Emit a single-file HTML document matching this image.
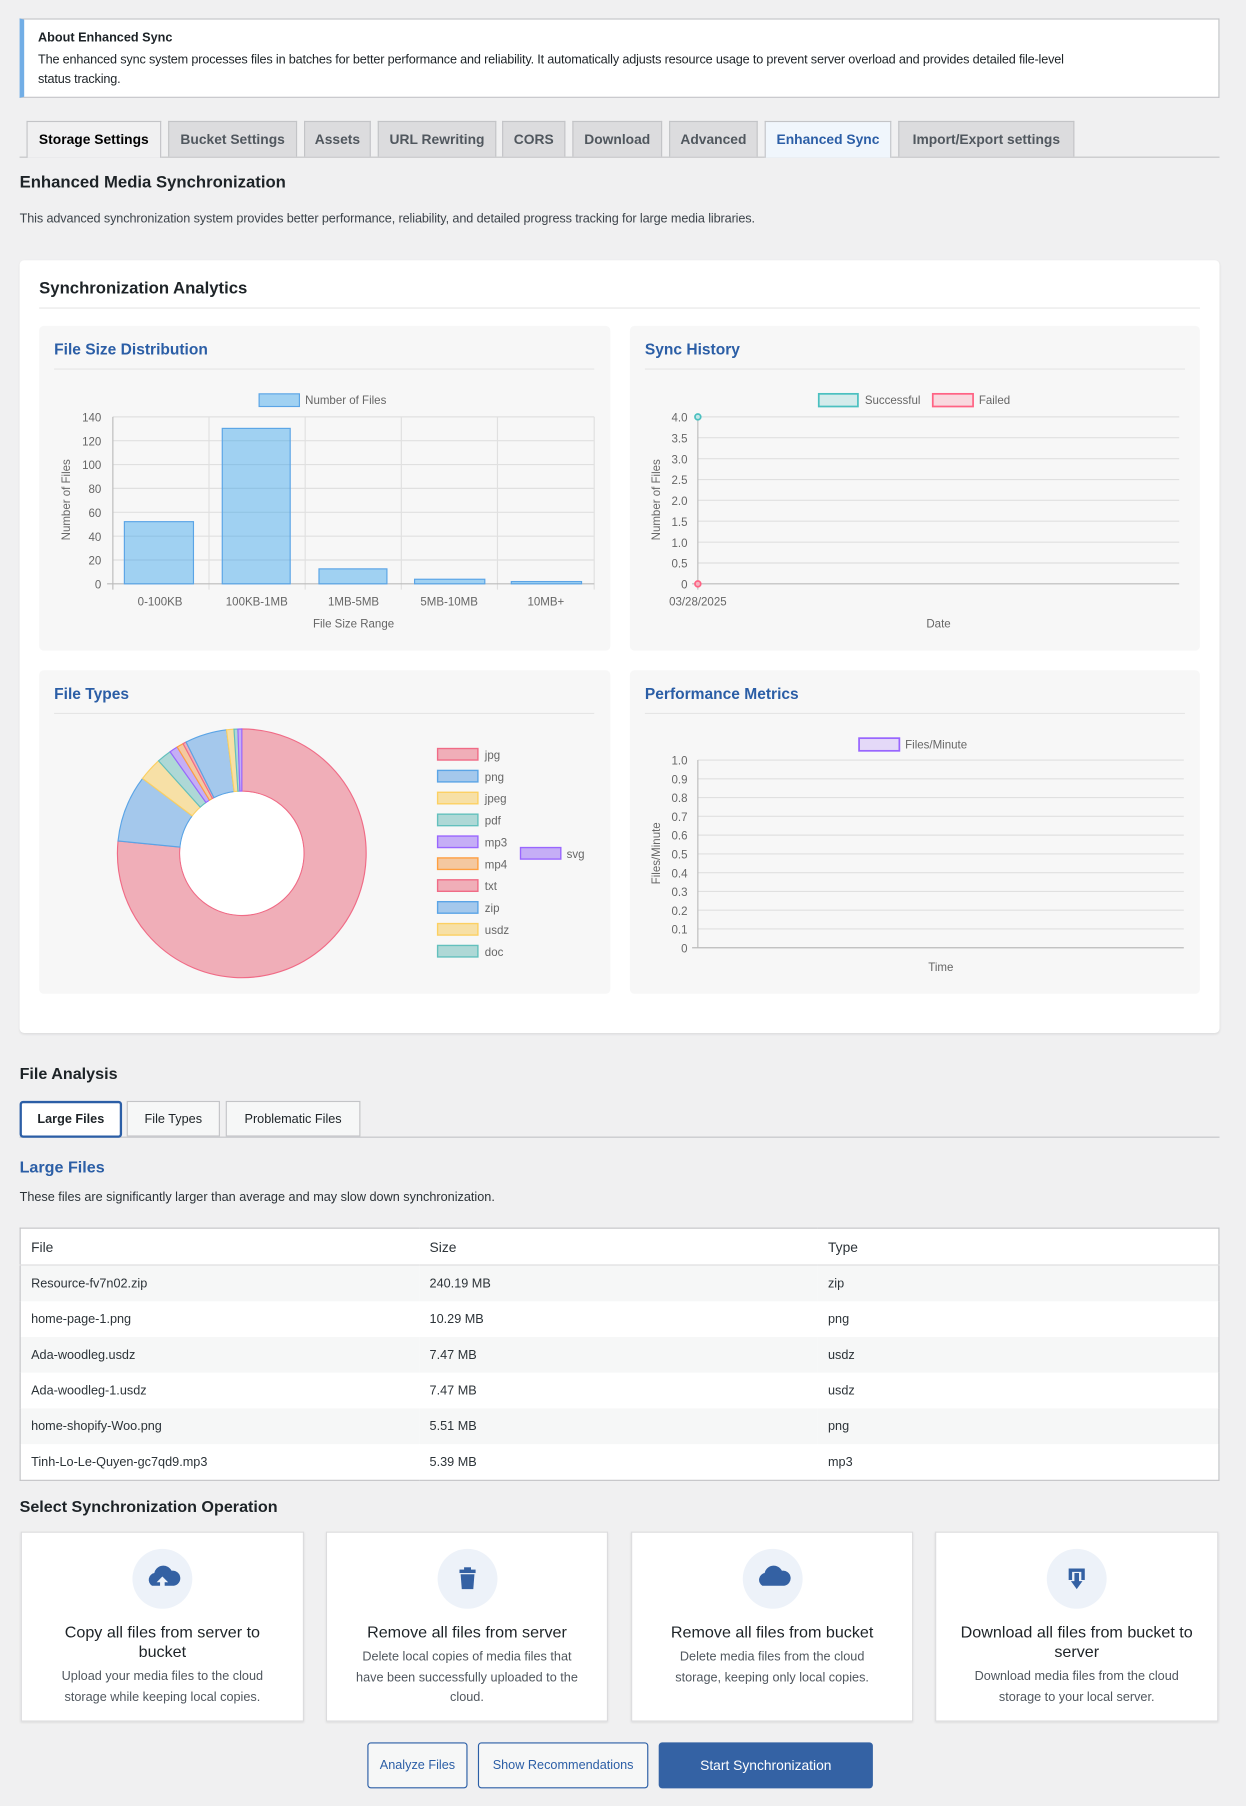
<!DOCTYPE html>
<html><head><meta charset="utf-8"><style>
html,body{margin:0;padding:0;background:#f0f0f1;width:1246px;height:1806px;overflow:hidden}
#w{position:absolute;left:0;top:0;width:1082px;height:1568px;transform:scale(1.15157);transform-origin:0 0;font-family:"Liberation Sans",sans-serif;color:#1d2327}
.a{position:absolute;white-space:nowrap}
.tab{position:absolute;top:105px;height:31px;background:#dcdcde;border:1px solid #c3c4c7;border-bottom:none;box-sizing:border-box;font-size:12px;font-weight:bold;color:#50575e;text-align:center;line-height:31px}
.box{position:absolute;background:#f7f7f7;border-radius:4px}
.ct{position:absolute;font-size:13.5px;font-weight:bold;color:#2b5ea6}
.card{position:absolute;top:1330px;height:165px;background:#fff;border:1px solid #dcdcde;box-shadow:0 1px 2px rgba(0,0,0,.1);box-sizing:border-box;text-align:center}
.card .ic{width:52px;height:52px;border-radius:50%;background:#edf2f9;margin:14px auto 0;position:relative}
.card h4{margin:12px 8px 0;font-size:14px;font-weight:500;line-height:17px;color:#1d2327;white-space:nowrap}
.card p{margin:5px 6px 0;font-size:11px;line-height:17.5px;color:#50575e;white-space:nowrap}
td{padding:0 0 0 9px;height:31px;font-size:11px;color:#2c3338}
</style></head><body><div id="w">
<div class="a" style="left:17px;top:16px;width:1042px;height:69px;background:#fff;border:1px solid #c3c4c7;border-left:4px solid #72aee6;box-sizing:border-box"></div>
<div class="a" style="left:33px;top:27px;font-size:11px;font-weight:bold">About Enhanced Sync</div>
<div class="a" style="left:33px;top:44px;font-size:11px;line-height:17px;letter-spacing:-0.15px">The enhanced sync system processes files in batches for better performance and reliability. It automatically adjusts resource usage to prevent server overload and provides detailed file-level<br>status tracking.</div>

<div class="a" style="left:17px;top:136px;width:1042px;height:1px;background:#c3c4c7"></div>
<div class="tab" style="left:23px;width:117px;background:#f0f0f1;color:#000;height:32px">Storage Settings</div>
<div class="tab" style="left:146px;width:112px">Bucket Settings</div>
<div class="tab" style="left:264px;width:58px">Assets</div>
<div class="tab" style="left:328px;width:103px">URL Rewriting</div>
<div class="tab" style="left:436px;width:55px">CORS</div>
<div class="tab" style="left:497px;width:78px">Download</div>
<div class="tab" style="left:581px;width:77px">Advanced</div>
<div class="tab" style="left:664px;width:110px;background:#f0f6fc;color:#2b5ea6;height:32px">Enhanced Sync</div>
<div class="tab" style="left:780px;width:153px">Import/Export settings</div>

<div class="a" style="left:17px;top:151px;font-size:14.5px;font-weight:bold">Enhanced Media Synchronization</div>
<div class="a" style="left:17px;top:184px;font-size:11px;color:#3c434a;letter-spacing:-0.1px">This advanced synchronization system provides better performance, reliability, and detailed progress tracking for large media libraries.</div>

<div class="a" style="left:17px;top:226px;width:1042px;height:671px;background:#fff;border-radius:4px;box-shadow:0 1px 2px rgba(0,0,0,.08)"></div>
<div class="a" style="left:34px;top:243px;font-size:14.5px;font-weight:bold">Synchronization Analytics</div>
<div class="a" style="left:34px;top:267px;width:1008px;height:1px;background:#e6e6e6"></div>

<div class="box" style="left:34px;top:283px;width:496px;height:282px"></div>
<div class="box" style="left:547px;top:283px;width:495px;height:282px"></div>
<div class="box" style="left:34px;top:582px;width:496px;height:281px"></div>
<div class="box" style="left:547px;top:582px;width:495px;height:281px"></div>
<div class="ct" style="left:47px;top:296px">File Size Distribution</div>
<div class="ct" style="left:560px;top:296px">Sync History</div>
<div class="ct" style="left:47px;top:595px">File Types</div>
<div class="ct" style="left:560px;top:595px">Performance Metrics</div>

<svg class="a" style="left:0;top:0" width="1082" height="1568" font-family="Liberation Sans, sans-serif" font-size="10" fill="#666">
<g stroke="#e5e5e5" stroke-width="1">
<line x1="47" y1="320.5" x2="516" y2="320.5"/><line x1="560" y1="320.5" x2="1029" y2="320.5"/>
<line x1="47" y1="619.5" x2="516" y2="619.5"/><line x1="560" y1="619.5" x2="1029" y2="619.5"/>
</g>
<g stroke="#e0e0e0">
<line x1="98" y1="362" x2="516" y2="362"/><line x1="98" y1="382.7" x2="516" y2="382.7"/><line x1="98" y1="403.4" x2="516" y2="403.4"/><line x1="98" y1="424.1" x2="516" y2="424.1"/><line x1="98" y1="444.9" x2="516" y2="444.9"/><line x1="98" y1="465.6" x2="516" y2="465.6"/><line x1="98" y1="486.3" x2="516" y2="486.3"/>
<line x1="181.5" y1="362" x2="181.5" y2="512"/><line x1="265" y1="362" x2="265" y2="512"/><line x1="348.5" y1="362" x2="348.5" y2="512"/><line x1="432" y1="362" x2="432" y2="512"/><line x1="516" y1="362" x2="516" y2="512"/>
</g>
<g stroke="#bbb"><line x1="98" y1="362" x2="98" y2="512"/><line x1="93" y1="507" x2="516" y2="507"/></g>
<g text-anchor="end"><text x="88" y="366">140</text><text x="88" y="386.7">120</text><text x="88" y="407.4">100</text><text x="88" y="428.1">80</text><text x="88" y="448.9">60</text><text x="88" y="469.6">40</text><text x="88" y="490.3">20</text><text x="88" y="511">0</text></g>
<g fill="rgba(54,162,235,0.45)" stroke="#5aa4e6" stroke-width="1">
<rect x="108" y="453" width="60" height="54"/><rect x="193" y="372" width="59" height="135"/><rect x="277" y="494" width="59" height="13"/><rect x="360" y="503" width="61" height="4"/><rect x="444" y="505" width="61" height="2"/>
</g>
<g text-anchor="middle"><text x="139" y="526">0-100KB</text><text x="223" y="526">100KB-1MB</text><text x="307" y="526">1MB-5MB</text><text x="390" y="526">5MB-10MB</text><text x="474" y="526">10MB+</text><text x="307" y="545">File Size Range</text></g>
<text transform="translate(61,434) rotate(-90)" text-anchor="middle">Number of Files</text>
<rect x="225" y="342" width="35" height="11" fill="rgba(54,162,235,0.45)" stroke="#5aa4e6"/><text x="265" y="351">Number of Files</text>
<g stroke="#e0e0e0">
<line x1="606" y1="362" x2="1024" y2="362"/><line x1="606" y1="380.1" x2="1024" y2="380.1"/><line x1="606" y1="398.3" x2="1024" y2="398.3"/><line x1="606" y1="416.4" x2="1024" y2="416.4"/><line x1="606" y1="434.5" x2="1024" y2="434.5"/><line x1="606" y1="452.6" x2="1024" y2="452.6"/><line x1="606" y1="470.8" x2="1024" y2="470.8"/><line x1="606" y1="488.9" x2="1024" y2="488.9"/>
</g>
<g stroke="#bbb"><line x1="606" y1="362" x2="606" y2="512"/><line x1="601" y1="507" x2="1024" y2="507"/></g>
<g text-anchor="end"><text x="597" y="366">4.0</text><text x="597" y="384.1">3.5</text><text x="597" y="402.3">3.0</text><text x="597" y="420.4">2.5</text><text x="597" y="438.5">2.0</text><text x="597" y="456.6">1.5</text><text x="597" y="474.8">1.0</text><text x="597" y="492.9">0.5</text><text x="597" y="511">0</text></g>
<circle cx="606" cy="362" r="2.5" fill="#c5e8e8" stroke="#4bc0c0" stroke-width="1.5"/>
<circle cx="606" cy="507" r="2.5" fill="#f5b5c2" stroke="#ff6384" stroke-width="1.5"/>
<g text-anchor="middle"><text x="606" y="526">03/28/2025</text><text x="815" y="545">Date</text></g>
<text transform="translate(573,434) rotate(-90)" text-anchor="middle">Number of Files</text>
<rect x="711" y="342" width="34" height="11" fill="rgba(75,192,192,0.2)" stroke="#4bc0c0" stroke-width="1.5"/><text x="751" y="351">Successful</text>
<rect x="810" y="342" width="35" height="11" fill="rgba(255,99,132,0.2)" stroke="#ff6384" stroke-width="1.5"/><text x="850" y="351">Failed</text>
<g stroke="#e0e0e0">
<line x1="606" y1="660" x2="1028" y2="660"/><line x1="606" y1="676.3" x2="1028" y2="676.3"/><line x1="606" y1="692.6" x2="1028" y2="692.6"/><line x1="606" y1="708.9" x2="1028" y2="708.9"/><line x1="606" y1="725.2" x2="1028" y2="725.2"/><line x1="606" y1="741.5" x2="1028" y2="741.5"/><line x1="606" y1="757.8" x2="1028" y2="757.8"/><line x1="606" y1="774.1" x2="1028" y2="774.1"/><line x1="606" y1="790.4" x2="1028" y2="790.4"/><line x1="606" y1="806.7" x2="1028" y2="806.7"/>
</g>
<g stroke="#bbb"><line x1="606" y1="660" x2="606" y2="823"/><line x1="601" y1="823" x2="1028" y2="823"/></g>
<g text-anchor="end"><text x="597" y="664">1.0</text><text x="597" y="680.3">0.9</text><text x="597" y="696.6">0.8</text><text x="597" y="712.9">0.7</text><text x="597" y="729.2">0.6</text><text x="597" y="745.5">0.5</text><text x="597" y="761.8">0.4</text><text x="597" y="778.1">0.3</text><text x="597" y="794.4">0.2</text><text x="597" y="810.7">0.1</text><text x="597" y="827">0</text></g>
<text x="817" y="843" text-anchor="middle">Time</text>
<text transform="translate(573,741) rotate(-90)" text-anchor="middle">Files/Minute</text>
<rect x="746" y="641" width="35" height="11" fill="rgba(153,102,255,0.2)" stroke="#9966ff" stroke-width="1.5"/><text x="786" y="650">Files/Minute</text>
<g stroke-width="1">
<path d="M210,633 A108,108 0 1 1 102.5,730.3 L156.3,735.6 A54,54 0 1 0 210,687 Z" fill="#f0aeb8" stroke="#f06b86"/>
<path d="M102.5,730.3 A108,108 0 0 1 123.8,676 L166.9,708.5 A54,54 0 0 0 156.3,735.6 Z" fill="#a4c8ec" stroke="#5aa4e6"/>
<path d="M123.8,676 A108,108 0 0 1 137.7,660.7 L173.9,700.9 A54,54 0 0 0 166.9,708.5 Z" fill="#f7e0a6" stroke="#fcd062"/>
<path d="M137.7,660.7 A108,108 0 0 1 147.7,652.8 L178.9,696.9 A54,54 0 0 0 173.9,700.9 Z" fill="#aed8d6" stroke="#63c0bd"/>
<path d="M147.7,652.8 A108,108 0 0 1 153.9,648.7 L181.9,694.9 A54,54 0 0 0 178.9,696.9 Z" fill="#c5aef6" stroke="#9966ff"/>
<path d="M153.9,648.7 A108,108 0 0 1 159,645.8 L184.5,693.4 A54,54 0 0 0 181.9,694.9 Z" fill="#f4c8a0" stroke="#ff9f40"/>
<path d="M159,645.8 A108,108 0 0 1 161.6,644.4 L185.8,692.7 A54,54 0 0 0 184.5,693.4 Z" fill="#f0aeb8" stroke="#f06b86"/>
<path d="M161.6,644.4 A108,108 0 0 1 196.7,633.8 L203.3,687.4 A54,54 0 0 0 185.8,692.7 Z" fill="#a4c8ec" stroke="#5aa4e6"/>
<path d="M196.7,633.8 A108,108 0 0 1 203.2,633.2 L206.6,687.1 A54,54 0 0 0 203.3,687.4 Z" fill="#f7e0a6" stroke="#fcd062"/>
<path d="M203.2,633.2 A108,108 0 0 1 206.6,633.1 L208.3,687 A54,54 0 0 0 206.6,687.1 Z" fill="#aed8d6" stroke="#63c0bd"/>
<path d="M206.6,633.1 A108,108 0 0 1 210,633 L210,687 A54,54 0 0 0 208.3,687 Z" fill="#c5aef6" stroke="#9966ff"/>
</g>
<circle cx="210" cy="741" r="53.5" fill="#fff"/>
<g stroke-width="1.2">
<rect x="380" y="650" width="35" height="10" fill="#f0aeb8" stroke="#f06b86"/>
<rect x="380" y="669" width="35" height="10" fill="#a4c8ec" stroke="#5aa4e6"/>
<rect x="380" y="688" width="35" height="10" fill="#f7e0a6" stroke="#fcd062"/>
<rect x="380" y="707" width="35" height="10" fill="#aed8d6" stroke="#63c0bd"/>
<rect x="380" y="726" width="35" height="10" fill="#c5aef6" stroke="#9966ff"/>
<rect x="380" y="745" width="35" height="10" fill="#f4c8a0" stroke="#ff9f40"/>
<rect x="380" y="764" width="35" height="10" fill="#f0aeb8" stroke="#f06b86"/>
<rect x="380" y="783" width="35" height="10" fill="#a4c8ec" stroke="#5aa4e6"/>
<rect x="380" y="802" width="35" height="10" fill="#f7e0a6" stroke="#fcd062"/>
<rect x="380" y="821" width="35" height="10" fill="#aed8d6" stroke="#63c0bd"/>
<rect x="452" y="736" width="35" height="10" fill="#c5aef6" stroke="#9966ff"/>
</g>
<g><text x="421" y="659">jpg</text><text x="421" y="678">png</text><text x="421" y="697">jpeg</text><text x="421" y="716">pdf</text><text x="421" y="735">mp3</text><text x="421" y="754">mp4</text><text x="421" y="773">txt</text><text x="421" y="792">zip</text><text x="421" y="811">usdz</text><text x="421" y="830">doc</text><text x="492" y="745">svg</text></g>
</svg>

<div class="a" style="left:17px;top:924px;font-size:14px;font-weight:bold">File Analysis</div>
<div class="a" style="left:17px;top:987px;width:1042px;height:1px;background:#c3c4c7"></div>
<div class="a" style="left:17px;top:956px;width:89px;height:32px;background:#fff;border:2px solid #2b5ea6;border-radius:3px;box-sizing:border-box;font-size:11px;font-weight:bold;text-align:center;line-height:28px">Large Files</div>
<div class="a" style="left:110px;top:956px;width:81px;height:31px;background:#f6f7f7;border:1px solid #c3c4c7;box-sizing:border-box;font-size:11px;text-align:center;line-height:30px">File Types</div>
<div class="a" style="left:196px;top:956px;width:117px;height:31px;background:#f6f7f7;border:1px solid #c3c4c7;box-sizing:border-box;font-size:11px;text-align:center;line-height:30px">Problematic Files</div>
<div class="a" style="left:17px;top:1005px;font-size:14px;font-weight:bold;color:#2b5ea6">Large Files</div>
<div class="a" style="left:17px;top:1034px;font-size:11px;color:#2c3338">These files are significantly larger than average and may slow down synchronization.</div>

<table class="a" style="left:17px;top:1066px;width:1042px;border-collapse:collapse;border:1px solid #c3c4c7;background:#fff" cellspacing="0">
<tr style="background:#fff;border-bottom:1px solid #dcdcde"><td style="width:337px;font-size:12px;height:31px">File</td><td style="width:337px;font-size:12px">Size</td><td style="font-size:12px">Type</td></tr>
<tr style="background:#f6f7f7"><td>Resource-fv7n02.zip</td><td>240.19 MB</td><td>zip</td></tr>
<tr><td>home-page-1.png</td><td>10.29 MB</td><td>png</td></tr>
<tr style="background:#f6f7f7"><td>Ada-woodleg.usdz</td><td>7.47 MB</td><td>usdz</td></tr>
<tr><td>Ada-woodleg-1.usdz</td><td>7.47 MB</td><td>usdz</td></tr>
<tr style="background:#f6f7f7"><td>home-shopify-Woo.png</td><td>5.51 MB</td><td>png</td></tr>
<tr><td>Tinh-Lo-Le-Quyen-gc7qd9.mp3</td><td>5.39 MB</td><td>mp3</td></tr>
</table>

<div class="a" style="left:17px;top:1300px;font-size:14px;font-weight:bold">Select Synchronization Operation</div>
<div class="card" style="left:18px;width:246px"><div class="ic"><svg width="52" height="52"><path d="M17,32 a6,6 0 0 1 2,-11 a8,8 0 0 1 15,-2 a6,6 0 0 1 2,13 Z" fill="#3461a3"/><path d="M26,24 l-5,5 h3 v5 h4 v-5 h3 Z" fill="#edf2f9"/></svg></div><h4>Copy all files from server to<br>bucket</h4><p>Upload your media files to the cloud<br>storage while keeping local copies.</p></div>
<div class="card" style="left:283px;width:245px"><div class="ic"><svg width="52" height="52"><rect x="19" y="18" width="14" height="3" fill="#3461a3"/><rect x="23" y="16" width="6" height="3" fill="#3461a3"/><path d="M20,22 h12 l-1,13 h-10 Z" fill="#3461a3"/></svg></div><h4>Remove all files from server</h4><p>Delete local copies of media files that<br>have been successfully uploaded to the<br>cloud.</p></div>
<div class="card" style="left:548px;width:245px"><div class="ic"><svg width="52" height="52"><path d="M17,32 a6,6 0 0 1 2,-11 a8,8 0 0 1 15,-2 a6,6 0 0 1 2,13 Z" fill="#3461a3"/></svg></div><h4>Remove all files from bucket</h4><p>Delete media files from the cloud<br>storage, keeping only local copies.</p></div>
<div class="card" style="left:812px;width:246px"><div class="ic"><svg width="52" height="52"><path d="M19,17 h14 v10 h-3 v-7 h-8 v7 h-3 Z" fill="#3461a3"/><path d="M24,21 h4 v7 h3 l-5,7 l-5,-7 h3 Z" fill="#3461a3"/></svg></div><h4>Download all files from bucket to<br>server</h4><p>Download media files from the cloud<br>storage to your local server.</p></div>

<div class="a" style="left:319px;top:1513px;width:87px;height:40px;border:1px solid #2b5ea6;border-radius:3px;background:#f6f7f7;box-sizing:border-box;font-size:11px;color:#2b5ea6;text-align:center;line-height:38px">Analyze Files</div>
<div class="a" style="left:415px;top:1513px;width:148px;height:40px;border:1px solid #2b5ea6;border-radius:3px;background:#f6f7f7;box-sizing:border-box;font-size:11px;color:#2b5ea6;text-align:center;line-height:38px">Show Recommendations</div>
<div class="a" style="left:572px;top:1513px;width:186px;height:40px;border-radius:3px;background:#3462a4;font-size:12px;color:#fff;text-align:center;line-height:40px">Start Synchronization</div>
</div></body></html>
